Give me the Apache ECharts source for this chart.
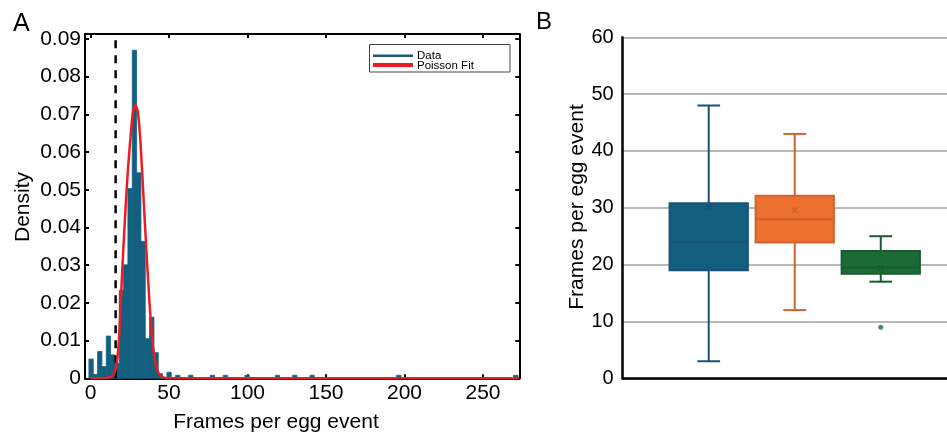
<!DOCTYPE html>
<html><head><meta charset="utf-8">
<script src="https://cdn.jsdelivr.net/npm/echarts@6/dist/echarts.min.js"></script>
<style>html,body{margin:0;padding:0;background:#fff}#c{width:947px;height:439px}</style>
</head><body><div id="c"></div>
<script>
// ---- Panel A data ----
const binStart = -1;
const binWidth = 2.76;
const mainDensity = [0.0051, 0.0010, 0.0071, 0.0031, 0.0112, 0.0062, 0.0040, 0.0233, 0.0301, 0.0503, 0.0870, 0.0545, 0.0363, 0.0105, 0.0162, 0.0068, 0.0012];
const tailBins = [18, 20, 23, 28, 31, 36, 43, 47, 51, 71, 98];
const tailDensity = [0.0016, 0.0008, 0.0008, 0.0008, 0.0008, 0.0008, 0.0008, 0.0008, 0.0008, 0.0008, 0.0008];
const fitX = [0, 8, 12, 14.5, 16, 17.3, 18.5, 19.7, 21, 22.3, 23.8, 25.5, 27, 28.6, 30.2, 31.6, 33, 34.4, 36, 37.6, 39.2, 41, 43, 45, 48, 55, 273];
const fitY = [0, 0, 0.0002, 0.0008, 0.0025, 0.006, 0.013, 0.024, 0.035, 0.045, 0.055, 0.064, 0.0705, 0.0725, 0.0705, 0.064, 0.054, 0.043, 0.031, 0.020, 0.011, 0.0048, 0.0017, 0.0005, 0.0001, 0, 0];
const thresholdX = 16;
const xTicksA = [0, 50, 100, 150, 200, 250];
const yTicksA = [0, 0.01, 0.02, 0.03, 0.04, 0.05, 0.06, 0.07, 0.08, 0.09];

// ---- Panel B data ----
const groupPos = [1, 2, 3];
const boxMin = [3, 12, 17];
const boxQ1 = [19, 23.9, 18.4];
const boxMedian = [24, 28, 19.5];
const boxQ3 = [30.8, 32.1, 22.4];
const boxMax = [48, 43, 25];
const boxMean = [30.1, 29.6, 19.4];
const outlierGroup = [3];
const outlierValue = [9];

const FONT = 'Liberation Sans, Arial, sans-serif';
const boxFill = ['#135f80', '#ec7131', '#1c6b37'];
const boxEdge = ['#1a5272', '#d2622b', '#185b30'];

const histData = [];
mainDensity.forEach((d, i) => histData.push([binStart + i * binWidth, binStart + (i + 1) * binWidth, d]));
tailBins.forEach((b, i) => histData.push([binStart + b * binWidth, binStart + (b + 1) * binWidth, tailDensity[i]]));
const fitData = fitX.map((x, i) => [x, fitY[i]]);
const boxData = groupPos.map((p, i) => [p, boxMin[i], boxQ1[i], boxMedian[i], boxQ3[i], boxMax[i], boxMean[i], i]);
const outData = outlierGroup.map((g, i) => [g, outlierValue[i]]);

const AX = {min: -3.5, max: 273.1};
const AY = {min: 0, max: 0.0913};
const lineBlack = {show: true, onZero: false, lineStyle: {color: '#000', width: 2}};

const chart = echarts.init(document.getElementById('c'), null, {renderer: 'canvas'});
chart.setOption({
  animation: false,
  backgroundColor: '#fff',
  grid: [
    {left: 85, top: 34, width: 434.3, height: 344.3},
    {left: 622.7, top: 37.3, width: 324.3, height: 341}
  ],
  xAxis: [
    {gridIndex: 0, type: 'value', position: 'bottom', min: AX.min, max: AX.max, axisLine: lineBlack,
     axisTick: {inside: true, length: 4, lineStyle: {width: 2, color: '#000'}, customValues: xTicksA},
     axisLabel: {customValues: xTicksA, fontSize: 21, color: '#000', fontFamily: FONT, margin: 4},
     splitLine: {show: false}},
    {gridIndex: 0, type: 'value', position: 'top', min: AX.min, max: AX.max, axisLine: lineBlack,
     axisTick: {inside: true, length: 4, lineStyle: {width: 2, color: '#000'}, customValues: xTicksA},
     axisLabel: {show: false}, splitLine: {show: false}},
    {gridIndex: 1, type: 'value', min: 0, max: 3.77, axisLine: {show: true, onZero: false, lineStyle: {color: '#000', width: 2.5}},
     axisTick: {show: false}, axisLabel: {show: false}, splitLine: {show: false}}
  ],
  yAxis: [
    {gridIndex: 0, type: 'value', position: 'left', min: AY.min, max: AY.max, axisLine: lineBlack,
     axisTick: {inside: true, length: 4, lineStyle: {width: 2, color: '#000'}, customValues: yTicksA},
     axisLabel: {customValues: yTicksA, fontSize: 21, color: '#000', fontFamily: FONT, margin: 4,
       formatter: v => v === 0 ? '0' : v.toFixed(2)},
     splitLine: {show: false}},
    {gridIndex: 0, type: 'value', position: 'right', min: AY.min, max: AY.max, axisLine: lineBlack,
     axisTick: {inside: true, length: 4, lineStyle: {width: 2, color: '#000'}, customValues: yTicksA},
     axisLabel: {show: false}, splitLine: {show: false}},
    {gridIndex: 1, type: 'value', min: 0, max: 60, interval: 10,
     axisLine: {show: true, onZero: false, lineStyle: {color: '#000', width: 2.5}},
     axisTick: {show: false},
     axisLabel: {fontSize: 20, color: '#000', fontFamily: FONT, margin: 9},
     splitLine: {show: true, lineStyle: {color: '#b8b8b8', width: 2}}}
  ],
  series: [
    {name: 'Data', type: 'custom', xAxisIndex: 0, yAxisIndex: 0, data: histData, encode: {x: [0, 1], y: 2}, z: 2,
     renderItem: (params, api) => {
       const p0 = api.coord([api.value(0), api.value(2)]);
       const p1 = api.coord([api.value(1), 0]);
       return {type: 'rect', shape: {x: p0[0], y: p0[1], width: p1[0] - p0[0], height: p1[1] - p0[1]},
               style: {fill: '#135f80', stroke: '#135f80', lineWidth: 0.8}};
     }},
    {name: 'threshold', type: 'line', xAxisIndex: 0, yAxisIndex: 0, data: [[thresholdX, AY.min], [thresholdX, AY.max]],
     symbol: 'none', z: 3, lineStyle: {color: '#000', width: 2.5, type: [8, 7]}},
    {name: 'Poisson Fit', type: 'line', xAxisIndex: 0, yAxisIndex: 0, data: fitData, smooth: 0.25,
     symbol: 'none', z: 4, lineStyle: {color: '#ec1c24', width: 2.5}},
    {name: 'boxes', type: 'custom', xAxisIndex: 2, yAxisIndex: 2, data: boxData, encode: {x: 0, y: [1, 2, 3, 4, 5]}, z: 3,
     renderItem: (params, api) => {
       const x = api.value(0), k = api.value(7);
       const fill = boxFill[k], edge = boxEdge[k];
       const hw = 0.455, cw = 0.132;
       const tl = api.coord([x - hw, api.value(4)]);
       const br = api.coord([x + hw, api.value(2)]);
       const c = (xx, yy) => api.coord([xx, yy]);
       const ln = (a, b, w) => ({type: 'line', shape: {x1: a[0], y1: a[1], x2: b[0], y2: b[1]}, style: {stroke: edge, lineWidth: w}});
       const m = c(x, api.value(6));
       return {type: 'group', children: [
         ln(c(x, api.value(4)), c(x, api.value(5)), 2),
         ln(c(x, api.value(2)), c(x, api.value(1)), 2),
         ln(c(x - cw, api.value(5)), c(x + cw, api.value(5)), 2),
         ln(c(x - cw, api.value(1)), c(x + cw, api.value(1)), 2),
         {type: 'rect', shape: {x: tl[0], y: tl[1], width: br[0] - tl[0], height: br[1] - tl[1]},
          style: {fill: fill, stroke: edge, lineWidth: 2}},
         ln(c(x - hw, api.value(3)), c(x + hw, api.value(3)), 2),
         ln([m[0] - 2.5, m[1] - 2.5], [m[0] + 2.5, m[1] + 2.5], 1.8),
         ln([m[0] - 2.5, m[1] + 2.5], [m[0] + 2.5, m[1] - 2.5], 1.8)
       ]};
     }},
    {name: 'outliers', type: 'scatter', xAxisIndex: 2, yAxisIndex: 2, data: outData, symbol: 'circle', symbolSize: 5,
     itemStyle: {color: '#1c6b37'}, z: 4}
  ],
  graphic: [
    {type: 'text', left: 13, top: 12, style: {text: 'A', fontSize: 25, fontFamily: FONT, fill: '#000'}},
    {type: 'text', left: 536, top: 10, style: {text: 'B', fontSize: 24, fontFamily: FONT, fill: '#000'}},
    {type: 'text', x: 276, y: 422, style: {text: 'Frames per egg event', fontSize: 21, fontFamily: FONT, fill: '#000', align: 'center', verticalAlign: 'middle'}},
    {type: 'text', x: 23, y: 207, rotation: Math.PI / 2, style: {text: 'Density', fontSize: 21, fontFamily: FONT, fill: '#000', align: 'center', verticalAlign: 'middle'}},
    {type: 'text', x: 577, y: 207, rotation: Math.PI / 2, style: {text: 'Frames per egg event', fontSize: 21, fontFamily: FONT, fill: '#000', align: 'center', verticalAlign: 'middle'}},
    {type: 'group', z: 100, children: [
      {type: 'rect', shape: {x: 369.5, y: 44.5, width: 140.5, height: 27.5}, style: {fill: '#fff', stroke: '#444', lineWidth: 1}},
      {type: 'line', shape: {x1: 373, y1: 55.7, x2: 413, y2: 55.7}, style: {stroke: '#1d5a78', lineWidth: 2.5}},
      {type: 'line', shape: {x1: 373, y1: 65, x2: 413, y2: 65}, style: {stroke: '#ec1c24', lineWidth: 4}},
      {type: 'text', x: 417, y: 55.5, style: {text: 'Data', fontSize: 11.5, fontFamily: FONT, fill: '#000', verticalAlign: 'middle'}},
      {type: 'text', x: 417, y: 65.5, style: {text: 'Poisson Fit', fontSize: 11.5, fontFamily: FONT, fill: '#000', verticalAlign: 'middle'}}
    ]}
  ]
});
</script>
</body></html>
